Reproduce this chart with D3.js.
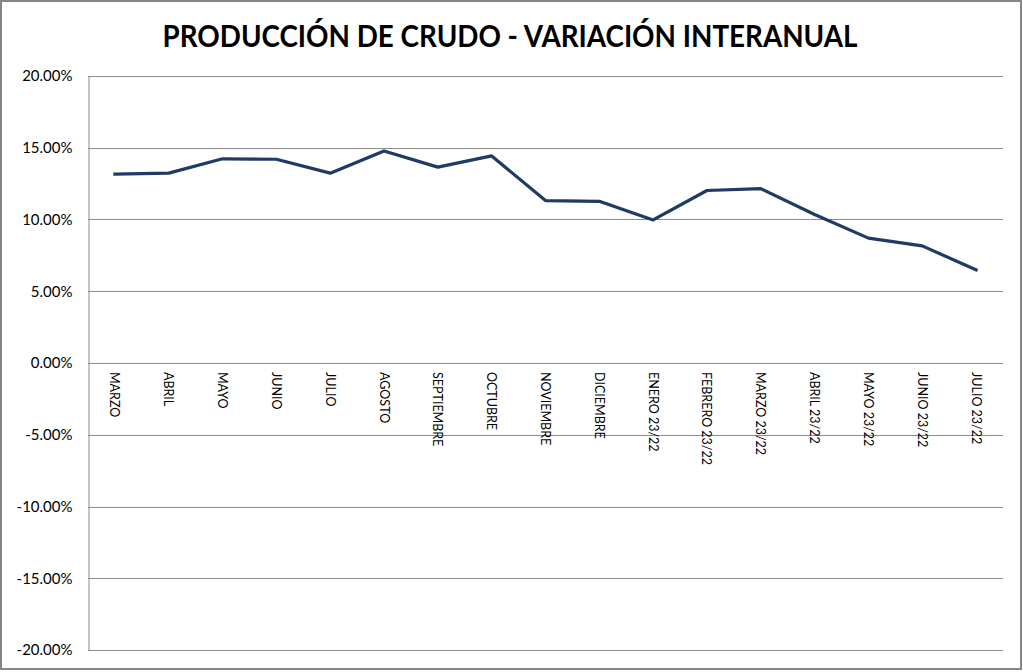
<!DOCTYPE html>
<html><head><meta charset="utf-8">
<script src="https://cdn.jsdelivr.net/npm/d3@7"></script>
<style>body{margin:0;background:#fff}svg{display:block}</style>
</head><body>
<svg id="c" width="1023" height="672"></svg>
<script>
const title = "PRODUCCIÓN DE CRUDO - VARIACIÓN INTERANUAL";
const categories = ["MARZO","ABRIL","MAYO","JUNIO","JULIO","AGOSTO","SEPTIEMBRE","OCTUBRE","NOVIEMBRE","DICIEMBRE","ENERO 23/22","FEBRERO 23/22","MARZO 23/22","ABRIL 23/22","MAYO 23/22","JUNIO 23/22","JULIO 23/22"];
const values = [0.1316,0.1323,0.1423,0.1420,0.1323,0.1478,0.1365,0.1443,0.1132,0.1127,0.0997,0.1202,0.1215,0.1035,0.0870,0.0816,0.0649];
const yTicks = [-0.20,-0.15,-0.10,-0.05,0,0.05,0.10,0.15,0.20];

const svg = d3.select("#c");
const m = {left:88, right:1003, top:76, bottom:650};
const x = d3.scaleBand().domain(categories).range([m.left, m.right]);
const y = d3.scaleLinear().domain([-0.20,0.20]).range([m.bottom, m.top]);
const fmt = d3.formatLocale({decimal:".",thousands:",",grouping:[3],currency:["$",""],minus:"-"}).format(".2%");

// outer border
svg.append("rect").attr("x",1).attr("y",1).attr("width",1020).attr("height",668)
  .attr("fill","#fff").attr("stroke","#868686").attr("stroke-width",2);

// title
svg.append("text").attr("x",510).attr("y",47).attr("text-anchor","middle")
  .attr("font-family","Lato, 'Open Sans', sans-serif").attr("font-weight","bold")
  .attr("font-size",31).attr("fill","#000")
  .attr("textLength",695).attr("lengthAdjust","spacingAndGlyphs").text(title);

// gridlines
svg.append("g").selectAll("line").data(yTicks).join("line")
  .attr("x1",m.left).attr("x2",m.right)
  .attr("y1",d=>Math.round(y(d))+0.5).attr("y2",d=>Math.round(y(d))+0.5)
  .attr("stroke","#8c8c8c").attr("stroke-width",1);

// y axis
const yAxis = svg.append("g").attr("transform",`translate(${m.left+0.5},0)`)
  .call(d3.axisLeft(y).tickValues(yTicks).tickFormat(fmt).tickSize(0).tickPadding(16));
yAxis.select(".domain").attr("stroke","#8c8c8c");
yAxis.selectAll("text").attr("font-family","Lato, 'Open Sans', sans-serif").attr("font-size",15).attr("fill","#000");

// x labels (rotated)
svg.append("g").selectAll("text").data(categories).join("text")
  .attr("transform",d=>`translate(${x(d)+x.bandwidth()/2-4.5},${y(0)+9}) rotate(90)`)
  .attr("text-anchor","start")
  .attr("font-family","Lato, 'Open Sans', sans-serif").attr("font-size",12.5).attr("fill","#000")
  .text(d=>d);

// line
const line = d3.line().x((d,i)=>x(categories[i])+x.bandwidth()/2).y(d=>y(d));
svg.append("path").datum(values).attr("d",line)
  .attr("fill","none").attr("stroke","#1f3a63").attr("stroke-width",3.2)
  .attr("stroke-linejoin","round").attr("stroke-linecap","square");
</script>
</body></html>
